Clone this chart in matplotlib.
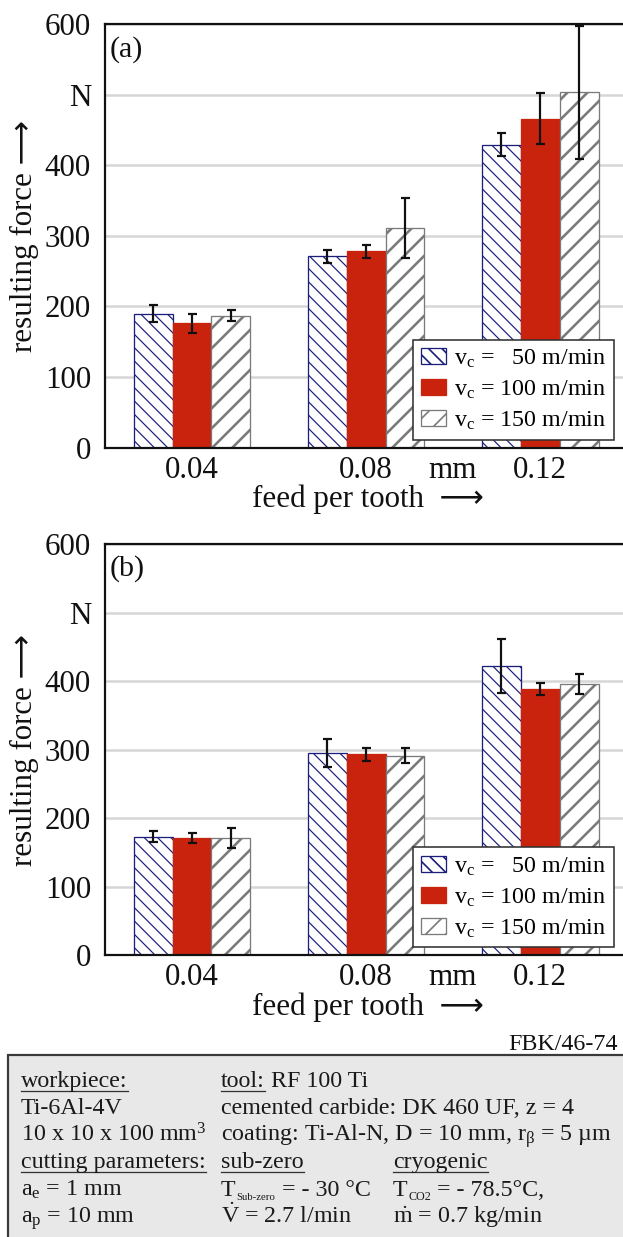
import matplotlib
matplotlib.use('Agg')
from matplotlib import pyplot as plt
from matplotlib.patches import Rectangle
from matplotlib.lines import Line2D
import numpy as np

DPI = 120
W, H = 623, 1237

def P(px):
    # pixels -> points at the figure dpi
    return px * 72 / DPI

plt.rcParams['font.family'] = ['Liberation Serif', 'DejaVu Sans']
plt.rcParams['mathtext.fontset'] = 'custom'
plt.rcParams['mathtext.rm'] = 'Liberation Serif'
plt.rcParams['mathtext.it'] = 'Liberation Serif:italic'
plt.rcParams['mathtext.bf'] = 'Liberation Serif:bold'

## data
feed_labels = ['0.04', '0.08', '0.12']
speed_labels = [r'v$_\mathrm{c}$ =   50 m/min',
                r'v$_\mathrm{c}$ = 100 m/min',
                r'v$_\mathrm{c}$ = 150 m/min']

force_a_50 = [190, 271, 429]
force_a_100 = [176, 278, 466]
force_a_150 = [187, 311, 503]
err_a_50 = [12, 9, 16]
err_a_100 = [13, 9, 36]
err_a_150 = [8, 43, 94]

force_b_50 = [173, 295, 422]
force_b_100 = [171, 293, 388]
force_b_150 = [171, 291, 396]
err_b_50 = [8, 20, 40]
err_b_100 = [7, 10, 9]
err_b_150 = [15, 11, 15]

y_ticks = [0, 100, 200, 300, 400, 500, 600]
y_ticklabels = ['0', '100', '200', '300', '400', 'N', '600']

## styles
BLUE = '#1c1f7a'
RED = '#c9220d'
GRAY = '#7a7a7a'
styles = [
    dict(facecolor='white', edgecolor=BLUE, hatch='\\\\\\', hatch_lw=1.2),
    dict(facecolor=RED, edgecolor=RED, hatch=None, hatch_lw=1.0),
    dict(facecolor='white', edgecolor=GRAY, hatch='//', hatch_lw=2.6),
]
bar_w = 0.224


def draw_panel(ax, series, errors, tag):
    x = np.arange(len(feed_labels))
    for i, (vals, errs) in enumerate(zip(series, errors)):
        st = styles[i]
        bars = ax.bar(x + (i - 1) * bar_w, vals, bar_w, facecolor=st['facecolor'],
                      edgecolor=st['edgecolor'], hatch=st['hatch'], linewidth=P(1.3),
                      label=speed_labels[i], zorder=2)
        for b in bars:
            try:
                b.set_hatch_linewidth(P(st['hatch_lw']))
            except AttributeError:
                pass
        ax.errorbar(x + (i - 1) * bar_w, vals, yerr=errs, fmt='none', ecolor='#111111',
                    elinewidth=P(2.2), capsize=P(4.5), capthick=P(2.2), zorder=3)

    ax.set_xlim(-0.5, 2.517)
    ax.set_ylim(0, 600)
    ax.set_yticks(y_ticks)
    ax.set_yticklabels(y_ticklabels)
    ax.set_xticks([0, 1, 1.5, 2])
    ax.set_xticklabels(['0.04', '0.08', 'mm', '0.12'])
    ax.tick_params(axis='both', length=0, labelsize=P(31), colors='#111111')
    ax.tick_params(axis='y', pad=P(14))
    ax.tick_params(axis='x', pad=P(8))
    ax.yaxis.grid(True, color='#d6d6d6', linewidth=P(2.5))
    ax.set_axisbelow(True)
    for s in ax.spines.values():
        s.set_linewidth(P(2.2))
        s.set_color('#111111')

    ax.set_ylabel('resulting force \u27f6', fontsize=P(31), color='#111111')
    ax.yaxis.set_label_coords(-0.125, 0.5)
    ax.set_xlabel('feed per tooth  \u27f6', fontsize=P(31), color='#111111', labelpad=P(0))
    ax.text(0.008, 0.94, tag, transform=ax.transAxes, fontsize=P(30),
            va='center', ha='left', color='#111111')

    leg = ax.legend(loc='lower right', bbox_to_anchor=(0.97, 0.019), borderaxespad=0,
                    fancybox=False, framealpha=1, edgecolor='#333333', fontsize=P(24),
                    handlelength=1.05, handleheight=0.62, handletextpad=0.35,
                    borderpad=0.33, labelspacing=0.36)
    leg.get_frame().set_linewidth(P(1.6))


fig = plt.figure(figsize=(W / DPI, H / DPI), dpi=DPI)

ax_a = fig.add_axes([105 / W, 1 - 447.7 / H, 525 / W, 423.7 / H])
draw_panel(ax_a, [force_a_50, force_a_100, force_a_150],
           [err_a_50, err_a_100, err_a_150], '(a)')

ax_b = fig.add_axes([105 / W, 1 - 955.3 / H, 525 / W, 411.3 / H])
draw_panel(ax_b, [force_b_50, force_b_100, force_b_150],
           [err_b_50, err_b_100, err_b_150], '(b)')

fig.text(618 / W, 1 - 1044 / H, 'FBK/46-74', ha='right', va='center',
         fontsize=P(24), color='#111111')

## info box at the bottom
fig.patches.append(Rectangle((8 / W, -0.02), 1.0, 0.02 + 1 - 1055 / H,
                             transform=fig.transFigure, facecolor='#e8e8e8',
                             edgecolor='#3a3a3a', linewidth=P(2.2), zorder=0))

col_x = [21, 221, 393]
row_y = [1087, 1114, 1141, 1168, 1196, 1223]
BOX_PX = 24
TXT = '#1a1a1a'

# each cell is a list of runs: (text, size factor, baseline shift px, underlined)
box_cells = [
    (0, 0, [('workpiece:', 1, 0, True)]),
    (0, 1, [('tool:', 1, 0, True), (' RF 100 Ti', 1, 0, False)]),
    (1, 0, [('Ti-6Al-4V', 1, 0, False)]),
    (1, 1, [('cemented carbide: DK 460 UF, z = 4', 1, 0, False)]),
    (2, 0, [(r'10 x 10 x 100 mm$^3$', 1, 0, False)]),
    (2, 1, [(r'coating: Ti-Al-N, D = 10 mm, r$_\mathrm{β}$ = 5 µm', 1, 0, False)]),
    (3, 0, [('cutting parameters:', 1, 0, True)]),
    (3, 1, [('sub-zero', 1, 0, True)]),
    (3, 2, [('cryogenic', 1, 0, True)]),
    (4, 0, [(r'a$_\mathrm{e}$ = 1 mm', 1, 0, False)]),
    (4, 1, [('T', 1, 0, False), ('Sub-zero', 0.45, -4, False), (' = - 30 °C', 1, 0, False)]),
    (4, 2, [('T', 1, 0, False), ('CO2', 0.5, -4, False), (' = - 78.5°C,', 1, 0, False)]),
    (5, 0, [(r'a$_\mathrm{p}$ = 10 mm', 1, 0, False)]),
    (5, 1, [(r'$\dot{\mathrm{V}}$ = 2.7 l/min', 1, 0, False)]),
    (5, 2, [(r'$\dot{\mathrm{m}}$ = 0.7 kg/min', 1, 0, False)]),
]

renderer = fig.canvas.get_renderer()
for r, c, runs in box_cells:
    x_px = col_x[c]
    for s, fac, dy, under in runs:
        lead = s.startswith(' ')
        t = fig.text((x_px + (5 if lead else 0)) / W, 1 - (row_y[r] - dy) / H, s.lstrip(),
                     ha='left', va='baseline', fontsize=P(BOX_PX * fac), color=TXT)
        bb = t.get_window_extent(renderer)
        if under:
            uy = 1 - (row_y[r] + 4) / H
            fig.lines.append(Line2D([bb.x0 / W, bb.x1 / W], [uy, uy],
                                    transform=fig.transFigure,
                                    color='#333333', linewidth=P(1.3)))
        x_px = bb.x1 + 1

fig.savefig('out.png', dpi=DPI)
